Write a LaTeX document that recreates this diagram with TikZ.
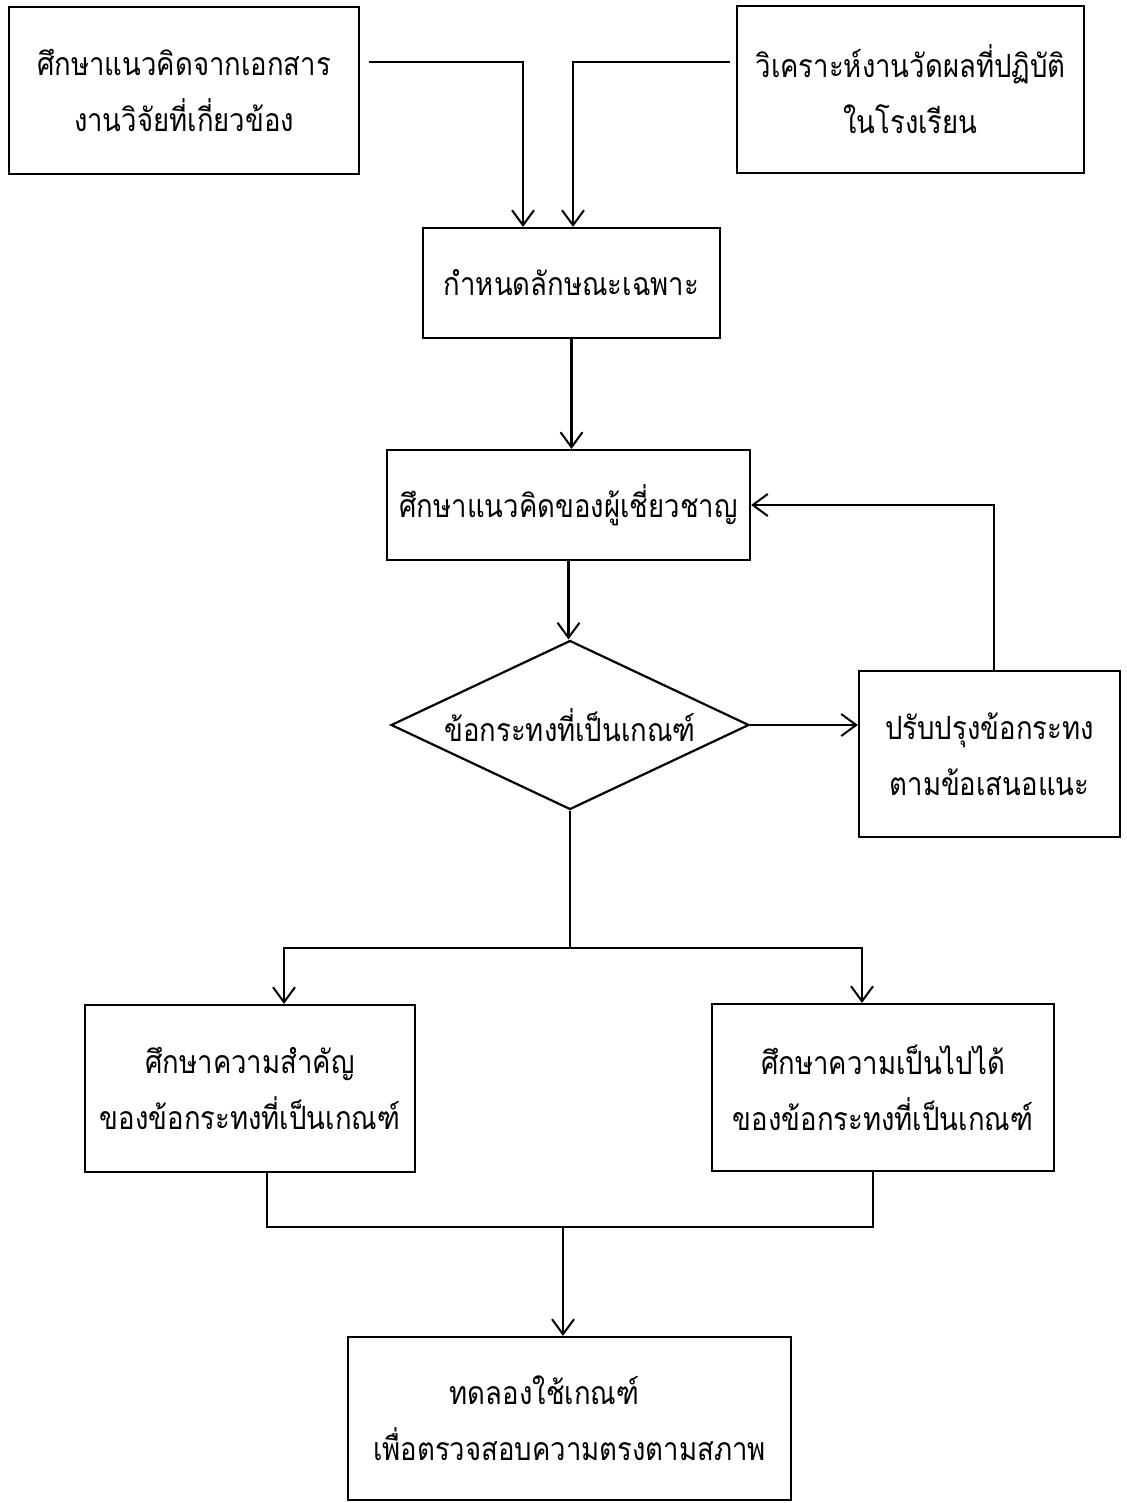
\documentclass[tikz,border=0pt]{standalone}
\usepackage{fontspec}
\newfontfamily\thaifont[Script=Thai,FakeStretch=0.86]{Loma}
\usetikzlibrary{arrows.meta,shapes.geometric,calc}
\tikzset{
  box/.style={draw, line width=2.2pt, inner sep=0pt, align=center,
    font=\thaifont\fontsize{32}{56}\selectfont},
  dec/.style={draw, line width=2.2pt, shape=diamond, inner sep=0pt, aspect=2.12,
    minimum width=358pt, minimum height=169pt,
    font=\thaifont\fontsize{32}{56}\selectfont},
  conn/.style={line width=2.2pt},
  arr/.style={conn, -{Straight Barb[length=15pt,width=22pt,line width=2pt]}}
}
\begin{document}
\begin{tikzpicture}[x=1pt,y=-1pt]
\path[use as bounding box, fill=white] (0,0) rectangle (1126,1503);

\node[box, minimum width=350pt, minimum height=167pt] (A) at (184,90.5)
  {ศึกษาแนวคิดจากเอกสาร\\งานวิจัยที่เกี่ยวข้อง};
\node[box, minimum width=347pt, minimum height=167pt] (B) at (910.5,89.5)
  {วิเคราะห์งานวัดผลที่ปฏิบัติ\\ในโรงเรียน};
\node[box, minimum width=297pt, minimum height=110pt] (C) at (571.5,283)
  {กำหนดลักษณะเฉพาะ};
\node[box, minimum width=363pt, minimum height=110pt] (D) at (568.5,505)
  {ศึกษาแนวคิดของผู้เชี่ยวชาญ};
\node[dec] (Q) at (570,725) {ข้อกระทงที่เป็นเกณฑ์};
\node[box, minimum width=261pt, minimum height=166pt] (E) at (989.5,754)
  {ปรับปรุงข้อกระทง\\ตามข้อเสนอแนะ};
\node[box, minimum width=330pt, minimum height=167pt] (F) at (250,1088.5)
  {ศึกษาความสำคัญ\\ของข้อกระทงที่เป็นเกณฑ์};
\node[box, minimum width=342pt, minimum height=167pt] (G) at (883,1087.5)
  {ศึกษาความเป็นไปได้\\ของข้อกระทงที่เป็นเกณฑ์};
\node[box, minimum width=443pt, minimum height=163pt] (H) at (569.5,1418.5)
  {ทดลองใช้เกณฑ์\hspace*{50pt}\\เพื่อตรวจสอบความตรงตามสภาพ};

% top inputs
\coordinate (a0) at ($(A.east)+(9,-28.5)$);
\coordinate (b0) at ($(B.west)+(-6,-27.5)$);
\draw[arr] (a0) -| ([xshift=-48.5pt]C.north);
\draw[arr] (b0) -| ([xshift=1.5pt]C.north);

\draw[arr] (C.south) -- (C.south |- D.north);
\draw[arr] (D.south) -- (D.south |- Q.north);
\draw[arr] (Q.east) -- (Q.east -| E.west);
\draw[arr] ([xshift=4.5pt]E.north) |- (D.east);

% split
\coordinate (split) at (Q.south |- 0,948);
\draw[conn] (Q.south) -- (split);
\draw[arr] (split) -| ([xshift=34pt]F.north);
\draw[arr] (split) -| ([xshift=-21pt]G.north);

% merge
\coordinate (merge) at (563,1227);
\draw[conn] ([xshift=17pt]F.south) |- (merge) -| ([xshift=-10pt]G.south);
\draw[arr] (merge) -- (merge |- H.north);
\end{tikzpicture}
\end{document}
